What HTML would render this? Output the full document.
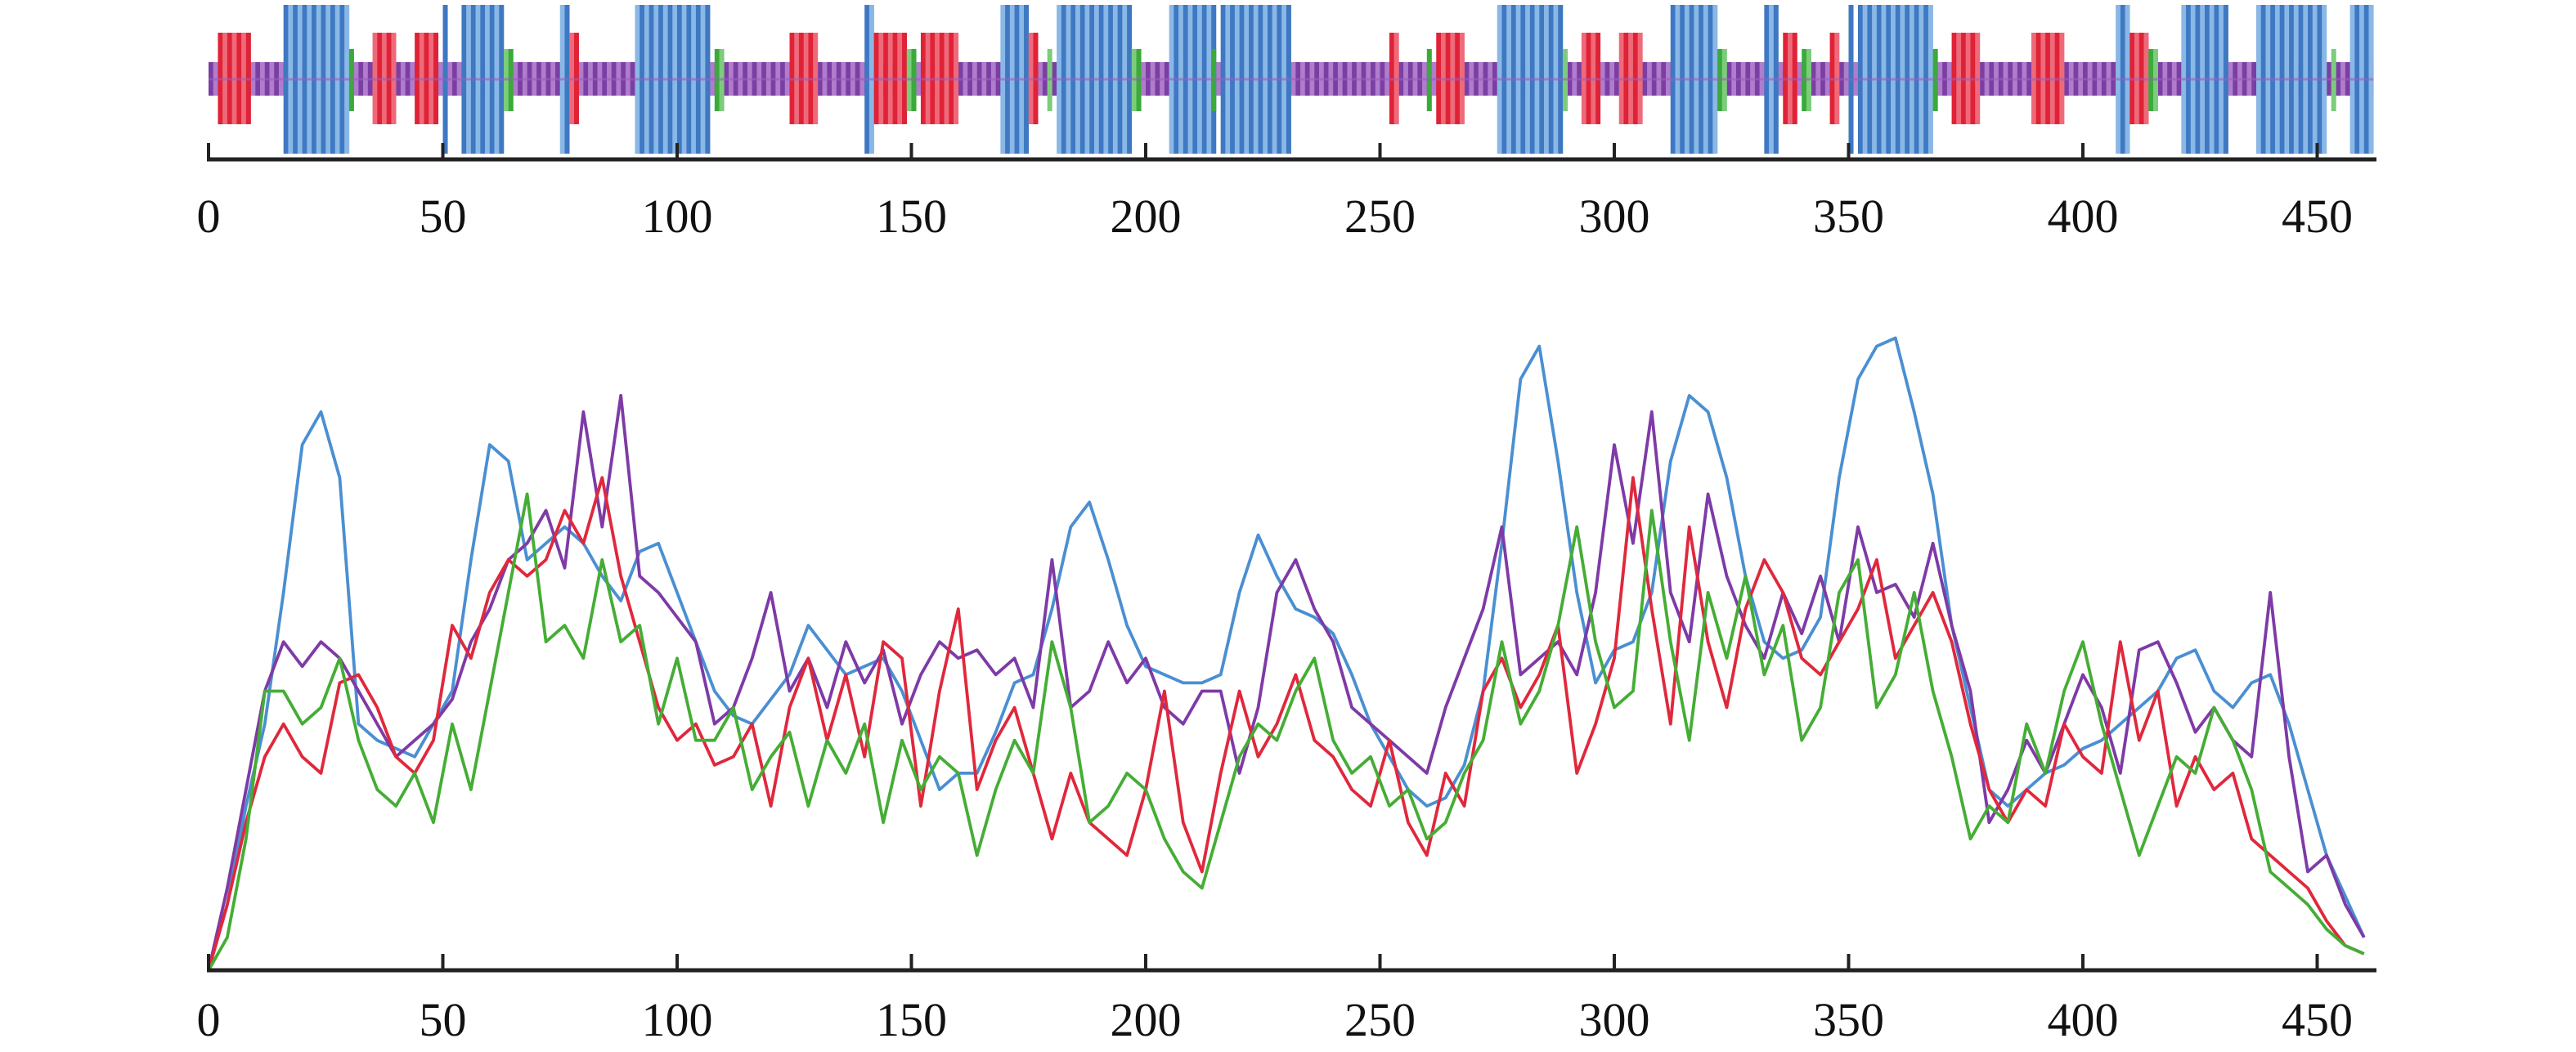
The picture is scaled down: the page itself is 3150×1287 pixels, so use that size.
<!DOCTYPE html>
<html><head><meta charset="utf-8"><style>
html,body{margin:0;padding:0;background:#fff;}
svg{display:block;}
</style></head><body>
<svg id="chart" width="3150" height="1287" viewBox="0 0 3150 1287" xmlns="http://www.w3.org/2000/svg">
<g id="strip"></g>
<g id="topaxis"></g>
<g id="lines"></g>
<g id="botaxis"></g>
</svg>
<script>
const ticks = [0,50,100,150,200,250,300,350,400,450];
const segType = ['red','blue','green','red','red','blue','blue','green','blue','red','blue','green','red','blue','red','green','red','blue','red','green','blue','green','blue','green','blue','red','green','red','blue','green','red','red','blue','green','blue','red','green','red','blue','blue','green','red','red','blue','red','green','blue','blue','green','blue'];
const segStart = [2,16,30,35,44,50,54,63,75,77,91,108,124,140,142,149,152,169,175,179,181,197,205,214,216,252,260,262,275,289,293,301,312,322,332,336,340,346,350,352,368,372,389,407,410,414,421,437,453,457];
const segEnd = [9,30,31,40,49,51,63,65,77,79,107,110,130,142,149,151,160,175,177,180,197,199,215,215,231,254,261,268,289,290,297,306,322,324,335,339,342,348,351,368,369,378,396,410,414,416,431,452,454,462];
const STEP = 4;
const blue = [0,40,100,150,230,320,340,300,150,140,135,130,150,170,250,320,310,250,260,270,260,240,225,255,260,230,200,170,155,150,165,180,210,195,180,185,190,170,140,110,120,120,145,175,180,220,270,285,250,210,185,180,175,175,180,230,265,240,220,215,205,180,150,130,110,100,105,125,170,260,360,380,310,230,175,195,200,230,310,350,340,300,240,200,190,195,215,300,360,380,385,340,290,210,160,110,100,110,120,125,135,140,150,160,170,190,195,170,160,175,180,150,110,70,45,20];
const purple = [0,50,110,170,200,185,200,190,170,150,130,140,150,165,200,220,250,260,280,245,340,270,350,240,230,215,200,150,160,190,230,170,190,160,200,175,195,150,180,200,190,195,180,190,160,250,160,170,200,175,190,160,150,170,170,120,160,230,250,220,200,160,150,140,130,120,160,190,220,270,180,190,200,180,230,320,260,340,230,200,290,240,210,190,230,205,240,200,270,230,235,215,260,210,170,90,110,140,120,150,180,160,120,195,200,175,145,160,140,130,230,130,60,70,40,20];
const red = [0,40,90,130,150,130,120,175,180,160,130,120,140,210,190,230,250,240,250,280,260,300,240,200,160,140,150,125,130,150,100,160,190,140,180,130,200,190,100,170,220,110,140,160,120,80,120,90,80,70,110,170,90,60,120,170,130,150,180,140,130,110,100,140,90,70,120,100,170,190,160,180,210,120,150,190,300,220,150,270,200,160,220,250,230,190,180,200,220,250,190,210,230,200,150,110,90,110,100,150,130,120,200,140,170,100,130,110,120,80,70,60,50,30,15,10];
const green = [0,20,80,170,170,150,160,190,140,110,100,120,90,150,110,170,230,290,200,210,190,250,200,210,150,190,140,140,160,110,130,145,100,140,120,150,90,140,110,130,120,70,110,140,120,200,160,90,100,120,110,80,60,50,90,130,150,140,170,190,140,120,130,100,110,80,90,120,140,200,150,170,210,270,200,160,170,280,200,140,230,190,240,180,210,140,160,230,250,160,180,230,170,130,80,100,90,150,120,170,200,150,110,70,100,130,120,160,140,110,60,50,40,25,15,10];

const NS='http://www.w3.org/2000/svg';
const X0=255, PX=5.73, XEND=2906;
const xs = u => X0 + u*PX;
const ys = h => 1187 - h*2.009;
function mk(tag, parent, attrs){const e=document.createElementNS(NS,tag);for(const k in attrs)e.setAttribute(k,attrs[k]);parent.appendChild(e);return e;}

const strip=document.getElementById('strip');
const pal={purple:['#7b3fa3','#b07ccc'],red:['#e02236','#ee6a7a'],blue:['#3f78c2','#8ab8e6'],green:['#3aaa3a','#7ccc7c']};
const ext={purple:[76,117],red:[40,152],blue:[6,188],green:[60,136]};
for(let u=0;u<462;u++){
  const r=mk('rect',strip,{x:xs(u),y:ext.purple[0],width:PX+0.3,height:ext.purple[1]-ext.purple[0],fill:pal.purple[u%2]});
  
  
}
segType.forEach((t,i)=>{
  for(let u=segStart[i];u<segEnd[i];u++){
    const r=mk('rect',strip,{x:xs(u),y:ext[t][0],width:PX+0.3,height:ext[t][1]-ext[t][0],fill:pal[t][u%2]});
    
    
  }
});
const mid=mk('line',strip,{x1:xs(0),x2:xs(462),y1:97,y2:97,stroke:'#9b5fc0','stroke-width':3,opacity:0.6});



function axis(g,y,ly){
  const l=mk('line',g,{x1:X0-2,x2:XEND,y1:y,y2:y,stroke:'#222','stroke-width':5});
  
  
  ticks.forEach(t=>{
    const tk=mk('line',g,{x1:xs(t),x2:xs(t),y1:y,y2:y-20,stroke:'#222','stroke-width':4});
    
    
    const tx=mk('text',g,{x:xs(t),y:ly,'text-anchor':'middle','font-family':'"Liberation Serif",serif','font-size':58,fill:'#111'});
    tx.textContent=t;
    
    
  });
}
axis(document.getElementById('topaxis'),195,284);

const lg=document.getElementById('lines');
[['blue',blue,'#4a8fd2'],['purple',purple,'#7e3aa6'],['red',red,'#e0283c'],['green',green,'#45ad35']].forEach(([n,arr,c])=>{
  const d=arr.map((v,i)=>(i?'L':'M')+xs(Math.min(i*STEP,462)).toFixed(1)+','+ys(v).toFixed(1)).join('');
  const p=mk('path',lg,{d:d,fill:'none',stroke:c,'stroke-width':3.8,'stroke-linejoin':'round'});
  
  
});
axis(document.getElementById('botaxis'),1187,1267);
</script>
</body></html>
